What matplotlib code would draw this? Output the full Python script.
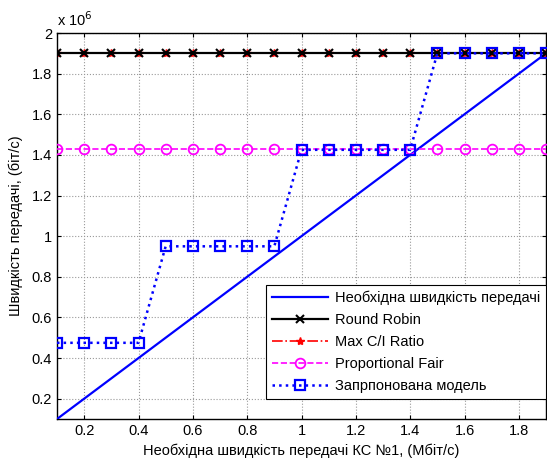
import matplotlib
matplotlib.use('Agg')
import matplotlib.pyplot as plt
from matplotlib.ticker import FuncFormatter
import numpy as np

plt.rcParams['font.family'] = ['Liberation Sans', 'DejaVu Sans']

# data (bit/s), x in Mbit/s
x = [0.1, 0.2, 0.3, 0.4, 0.5, 0.6, 0.7, 0.8, 0.9, 1.0,
     1.1, 1.2, 1.3, 1.4, 1.5, 1.6, 1.7, 1.8, 1.9]
required = [v * 1e6 for v in x]
round_robin = [1.9e6] * 19
max_ci = [1.9e6] * 19
prop_fair = [1.43e6] * 19
proposed = [0.475e6] * 4 + [0.95e6] * 5 + [1.425e6] * 5 + [1.9e6] * 5

labels = ['Необхідна швидкість передачі', 'Round Robin', 'Max C/I Ratio',
          'Proportional Fair', 'Запрпонована модель']

fig = plt.figure(figsize=(5.47, 4.68), dpi=100)
ax = fig.add_axes([57 / 547, 1 - 419 / 468, 489 / 547, 386 / 468])

ax.plot(x, required, '-', color='#0000ff', lw=1.6, label=labels[0], zorder=3)
ax.plot(x, max_ci, '-.', color='red', marker='*', ms=6, lw=1.2, label=labels[2], zorder=2)
ax.plot(x, round_robin, '-', color='black', marker='x', ms=6, mew=1.5, lw=1.6,
        label=labels[1], zorder=4)
ax.plot(x, prop_fair, '--', color='#ff00ff', marker='o', mfc='none', ms=7, mew=1.3,
        lw=1.2, label=labels[3], zorder=4)
ax.plot(x, proposed, ':', color='#0000ff', marker='s', mfc='none', ms=7, mew=1.6,
        lw=1.8, label=labels[4], zorder=5)

ax.set_xlim(0.1, 1.9)
ax.set_ylim(0.1e6, 2e6)
ax.set_xticks(np.arange(0.2, 1.81, 0.2))
ax.set_yticks(np.arange(0.2e6, 2.01e6, 0.2e6))
ax.xaxis.set_major_formatter(FuncFormatter(lambda v, p: '%g' % round(v, 1)))
ax.yaxis.set_major_formatter(FuncFormatter(lambda v, p: '%g' % round(v / 1e6, 1)))
ax.tick_params(direction='in', top=True, right=True, labelsize=10.5, length=3)
ax.grid(True, color='#999999', linestyle=':', lw=0.8)
for s in ax.spines.values():
    s.set_linewidth(1.0)

ax.text(0.0, 1.01, 'x 10$^6$', transform=ax.transAxes, fontsize=10.5,
        ha='left', va='bottom')

ax.set_xlabel('Необхідна швидкість передачі КС №1, (Мбіт/с)', fontsize=10.5, labelpad=4)
ax.set_ylabel('Швидкість передачі, (біт/с)', fontsize=10.5, labelpad=6)

h, l = ax.get_legend_handles_labels()
order = [l.index(t) for t in labels]
leg = ax.legend([h[i] for i in order], [l[i] for i in order], loc='lower right',
                bbox_to_anchor=(1.0, 0.052), borderaxespad=0, fontsize=10.5,
                fancybox=False, edgecolor='black', framealpha=1, handlelength=3.8,
                handletextpad=0.5, borderpad=0.4, labelspacing=0.55)
leg.get_frame().set_linewidth(0.8)

fig.savefig('out.png', dpi=100)
